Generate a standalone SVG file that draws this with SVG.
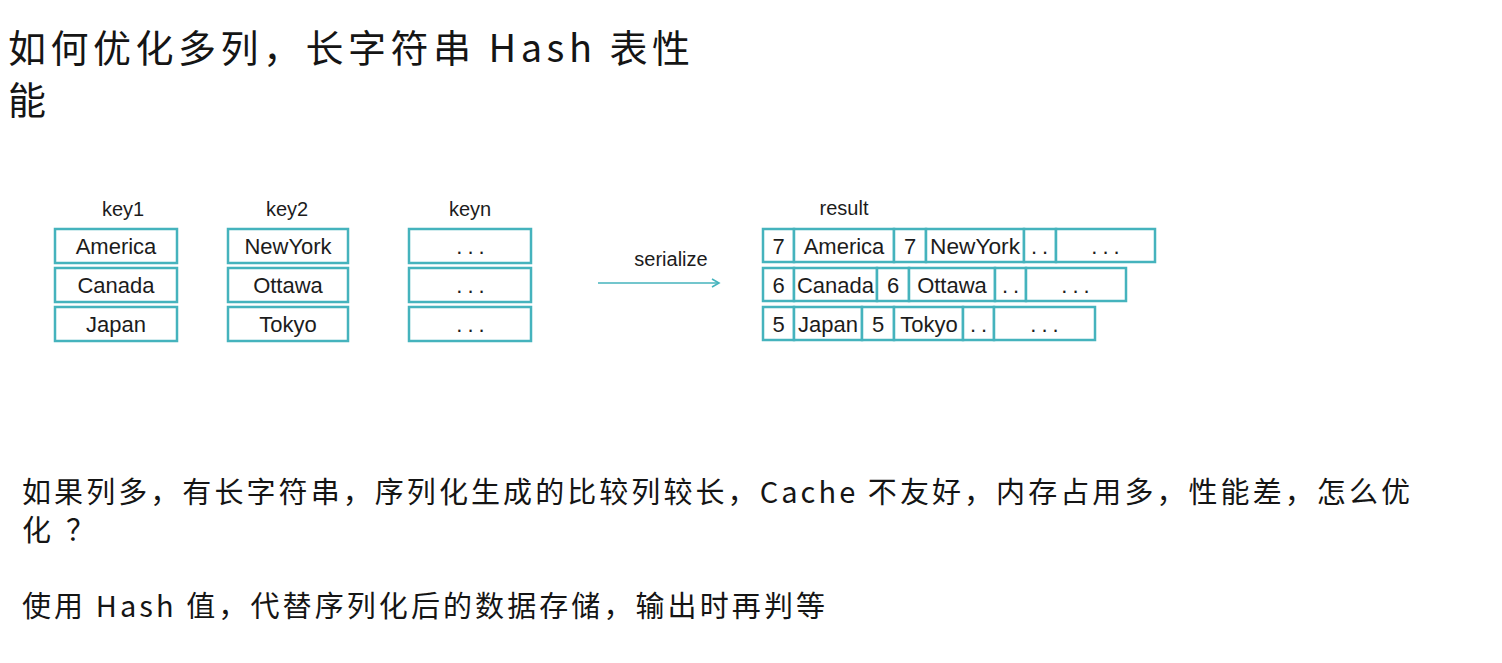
<svg xmlns="http://www.w3.org/2000/svg" width="1502" height="663" viewBox="0 0 1502 663">
<defs>
<style>
.box{fill:#ffffff;stroke:#45b3bd;stroke-width:2.5}
.t{font-family:"Liberation Sans","Noto Sans",sans-serif;font-size:22px;fill:#1c1c1c;text-anchor:middle}
.lbl{font-family:"Liberation Sans","Noto Sans",sans-serif;font-size:20px;fill:#1c1c1c;text-anchor:middle}
.cjk{font-family:"Noto Sans CJK SC","Liberation Sans",sans-serif;fill:#151515}
.dots{letter-spacing:5px}
</style>
<marker id="arr" markerWidth="12" markerHeight="12" refX="10" refY="6" orient="auto" markerUnits="userSpaceOnUse">
<path d="M3,2 L10,6 L3,10" fill="none" stroke="#45b3bd" stroke-width="1.6"/>
</marker>
</defs>
<rect width="1502" height="663" fill="#ffffff"/>

<g id="title">
<text class="cjk" x="8" y="62" font-size="38" textLength="682" lengthAdjust="spacing">如何优化多列，长字符串 Hash 表性</text>
<text class="cjk" x="8" y="114" font-size="38">能</text>
</g>

<g id="key1">
<text class="lbl" x="123" y="216">key1</text>
<rect class="box" x="55" y="229" width="122" height="34"/>
<rect class="box" x="55" y="268" width="122" height="34"/>
<rect class="box" x="55" y="307" width="122" height="34"/>
<text class="t" x="116" y="254">America</text>
<text class="t" x="116" y="293">Canada</text>
<text class="t" x="116" y="332">Japan</text>
</g>

<g id="key2">
<text class="lbl" x="287" y="216">key2</text>
<rect class="box" x="228" y="229" width="120" height="34"/>
<rect class="box" x="228" y="268" width="120" height="34"/>
<rect class="box" x="228" y="307" width="120" height="34"/>
<text class="t" x="288" y="254">NewYork</text>
<text class="t" x="288" y="293">Ottawa</text>
<text class="t" x="288" y="332">Tokyo</text>
</g>

<g id="keyn">
<text class="lbl" x="470" y="216">keyn</text>
<rect class="box" x="409" y="229" width="122" height="34"/>
<rect class="box" x="409" y="268" width="122" height="34"/>
<rect class="box" x="409" y="307" width="122" height="34"/>
<text class="t dots" x="473" y="254">...</text>
<text class="t dots" x="473" y="293">...</text>
<text class="t dots" x="473" y="332">...</text>
</g>

<g id="connectors">
<line x1="598" y1="283" x2="719" y2="283" stroke="#45b3bd" stroke-width="1.6" marker-end="url(#arr)"/>
<text class="lbl" x="671" y="266" font-size="21">serialize</text>
</g>

<g id="result">
<text class="lbl" x="844" y="215">result</text>
<rect class="box" x="763" y="229" width="31" height="33"/>
<rect class="box" x="794" y="229" width="100" height="33"/>
<rect class="box" x="894" y="229" width="32" height="33"/>
<rect class="box" x="926" y="229" width="98" height="33"/>
<rect class="box" x="1024" y="229" width="32" height="33"/>
<rect class="box" x="1056" y="229" width="99" height="33"/>
<text class="t" x="778.5" y="254">7</text>
<text class="t" x="844" y="254">America</text>
<text class="t" x="910" y="254">7</text>
<text class="t" x="975" y="254" textLength="90" lengthAdjust="spacingAndGlyphs">NewYork</text>
<text class="t dots" x="1042" y="254">..</text>
<text class="t dots" x="1108" y="254">...</text>

<rect class="box" x="763" y="268" width="31" height="33"/>
<rect class="box" x="794" y="268" width="83" height="33"/>
<rect class="box" x="877" y="268" width="32" height="33"/>
<rect class="box" x="909" y="268" width="86" height="33"/>
<rect class="box" x="995" y="268" width="31" height="33"/>
<rect class="box" x="1026" y="268" width="100" height="33"/>
<text class="t" x="778.5" y="293">6</text>
<text class="t" x="835.5" y="293">Canada</text>
<text class="t" x="893" y="293">6</text>
<text class="t" x="952" y="293">Ottawa</text>
<text class="t dots" x="1013" y="293">..</text>
<text class="t dots" x="1078" y="293">...</text>

<rect class="box" x="763" y="307" width="31" height="33"/>
<rect class="box" x="794" y="307" width="68" height="33"/>
<rect class="box" x="862" y="307" width="32" height="33"/>
<rect class="box" x="894" y="307" width="69" height="33"/>
<rect class="box" x="963" y="307" width="31" height="33"/>
<rect class="box" x="994" y="307" width="101" height="33"/>
<text class="t" x="778.5" y="332">5</text>
<text class="t" x="828" y="332">Japan</text>
<text class="t" x="878" y="332">5</text>
<text class="t" x="929" y="332">Tokyo</text>
<text class="t dots" x="981" y="332">..</text>
<text class="t dots" x="1047" y="332">...</text>
</g>

<g id="notes">
<text class="cjk" x="22" y="503" font-size="29" textLength="1388" lengthAdjust="spacing">如果列多，有长字符串，序列化生成的比较列较长，Cache 不友好，内存占用多，性能差，怎么优</text>
<text class="cjk" x="22" y="541" font-size="29">化<tspan x="66">？</tspan></text>
<text class="cjk" x="22" y="617" font-size="29" textLength="803" lengthAdjust="spacing">使用 Hash 值，代替序列化后的数据存储，输出时再判等</text>
</g>
</svg>
